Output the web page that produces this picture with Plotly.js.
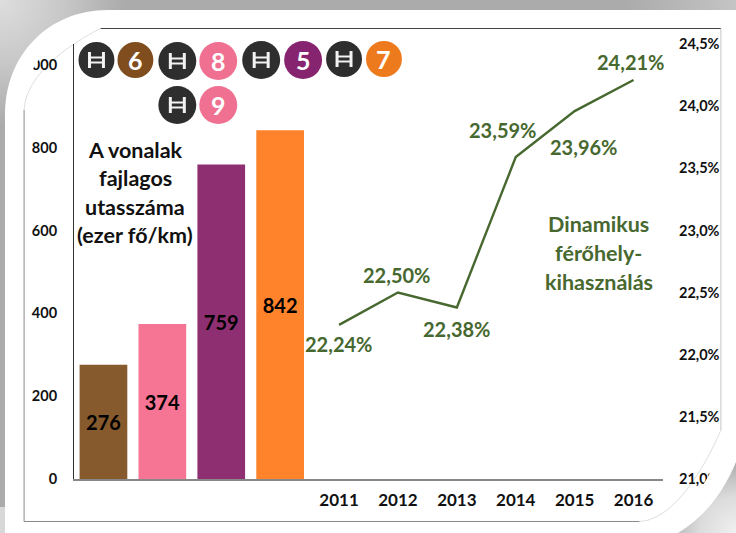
<!DOCTYPE html>
<html>
<head>
<meta charset="utf-8">
<script src="https://cdn.plot.ly/plotly-3.0.1.min.js"></script>
<style>
html,body{margin:0;padding:0;width:736px;height:533px;overflow:hidden}
body{background:#b0b0b0;}
#bg{position:absolute;left:0;top:0;width:736px;height:533px;background:
 radial-gradient(circle 125px at 0 0,#dedede 0,#c8c8c8 50%,rgba(176,176,176,0) 100%) no-repeat,
 linear-gradient(90deg,rgba(176,176,176,0) 85%,#c4c4c4 100%) no-repeat 0 0/736px 11px,
 linear-gradient(#d8d8d8,#d8d8d8) no-repeat 0 507px/6px 26px,
 radial-gradient(circle 72px at 736px 533px,#f0f0f0 0,#dcdcdc 50%,#ababab 100%) no-repeat;}
#panel{position:absolute;left:0;top:0;width:736px;height:533px;background:#fff;
 clip-path:path('M5 533 L5 112 C6 55 48 10 108 10 L736 10 L736 462 C722 495 704 517 678 533 Z');}
#plot{position:absolute;left:0;top:0;width:736px;height:533px;
 clip-path:path('M22 523 L22 110 C24 62 58 28 100 27 L723 27 L723 430 C716 480 685 521 640 523 Z');}
</style>
</head>
<body>
<div id="bg"></div>
<div id="panel"></div>
<div id="plot"></div>
<script>
// Data
var barCats = ['M6','M8','M5','M7'];
var barVals = [276,374,759,842];
var barColors = ['#875A2E','#F67494','#8E2F72','#FF832B'];
var years = ['2011','2012','2013','2014','2015','2016'];
var rates = [22.24,22.50,22.38,23.59,23.96,24.21];
var rateLabels = ['22,24%','22,50%','22,38%','23,59%','23,96%','24,21%'];
var rateLabelDx = [-1,-1,0,-13,9,-3];
var rateLabelDy = [-19,18,-22,27,-36,18];
var leftTicks = [0,200,400,600,800,1000];
var rightTicks = [21,21.5,22,22.5,23,23.5,24,24.5];
var rightTickText = ['21,0%','21,5%','22,0%','22,5%','23,0%','23,5%','24,0%','24,5%'];
var allCats = barCats.concat(years);
var xTickText = ['','','',''].concat(years);
var badges = [['H',96,60,18,'#2E2E2E'],['6',135,60,18,'#7F4D1E'],['H',177,61,19,'#2E2E2E'],['8',218,61,19,'#EF7090'],
 ['H',261,60,19,'#2E2E2E'],['5',303,60,19,'#87246F'],['H',344,59,18,'#2E2E2E'],['7',384,59,18,'#EE7A1E'],
 ['H',177,105,19,'#2E2E2E'],['9',218,105,19,'#EF7090']];
var leftNote = ['A vonalak','fajlagos','utasszáma','(ezer fő/km)'];
var leftNoteY = [150,178,207,235];
var rightNote = ['Dinamikus','férőhely-','kihasználás'];
var rightNoteY = [224,253,282];

// Layout helpers: pixels to paper fractions
var L=73.5,R=663.5,T=44,B=479;
function fx(x){return (x-L)/(R-L);}
function fy(y){return (B-y)/(B-T);}
function P(cmds){return cmds.map(function(c){return c[0]+' '+fx(c[1]).toFixed(5)+' '+fy(c[2]).toFixed(5);}).join(' ');}
function pcurve(a,b,c){return 'C '+fx(a[0]).toFixed(5)+' '+fy(a[1]).toFixed(5)+' '+fx(b[0]).toFixed(5)+' '+fy(b[1]).toFixed(5)+' '+fx(c[0]).toFixed(5)+' '+fy(c[1]).toFixed(5);}
function frame(path,color,w){return {type:'path',xref:'paper',yref:'paper',path:path,line:{color:color,width:w},layer:'below'};}

var FONT='Lato, "Open Sans", sans-serif';
var GREEN='#47682F';
var shapes=[
 frame(P([['M',100,28.5],['L',721.5,28.5]]),'#444444',1.2),
 frame(P([['M',721.5,28.5],['L',721.5,430]]),'#c4c4c4',1),
 frame(P([['M',23.5,110],['L',23.5,521.5],['L',640,521.5]]),'#8a8a8a',1),
 frame(P([['M',23.5,110]])+' '+pcurve([25,64,59,29],[100,28.5],[100,28.5]),'#d0d0d0',0.7),
 frame(P([['M',640,521.5]])+' '+pcurve([685,520,715,480],[721.5,430],[721.5,430]),'#d0d0d0',0.7)
];
var annos=[];
function note(t,x,y,size,color){annos.push({xref:'paper',yref:'paper',x:fx(x),y:fy(y),text:t,showarrow:false,xanchor:'center',yanchor:'middle',font:{family:FONT,size:size,color:color}});}
badges.forEach(function(b){
 var t=b[0],cx=b[1],cy=b[2],r=b[3];
 shapes.push({type:'circle',xref:'paper',yref:'paper',x0:fx(cx-r),x1:fx(cx+r),y0:fy(cy+r),y1:fy(cy-r),fillcolor:b[4],line:{width:0},layer:'above'});
 if(t==='H'){
  shapes.push({type:'path',xref:'paper',yref:'paper',layer:'above',line:{color:'#f2f2f2',width:3},
   path:P([['M',cx-7,cy-8],['L',cx-7,cy+8],['M',cx+7,cy-8],['L',cx+7,cy+8]])});
  shapes.push({type:'path',xref:'paper',yref:'paper',layer:'above',line:{color:'#f2f2f2',width:2},
   path:P([['M',cx-7,cy-2.5],['L',cx+7,cy-2.5],['M',cx-7,cy+2.5],['L',cx+7,cy+2.5]])});
 } else {
  note('<b>'+t+'</b>',cx,cy,25,'#ffffff');
 }
});
leftNote.forEach(function(t,i){note('<b>'+t+'</b>',135,leftNoteY[i],21.5,'#111111');});
rightNote.forEach(function(t,i){note('<b>'+t+'</b>',599,rightNoteY[i],21.5,GREEN);});
years.forEach(function(y,i){
 annos.push({xref:'x',yref:'y2',x:barCats.length+i,y:rates[i],text:'<b>'+rateLabels[i]+'</b>',showarrow:false,xanchor:'center',yanchor:'middle',
  xshift:rateLabelDx[i],yshift:rateLabelDy[i],font:{family:FONT,size:20,color:GREEN}});
});

var traces=[
 {type:'bar',x:barCats,y:barVals,marker:{color:barColors,line:{width:0}},text:barVals.map(String),
  textposition:'inside',insidetextanchor:'middle',textangle:0,constraintext:'none',
  textfont:{family:FONT,size:20,color:'#000000',weight:700},hoverinfo:'none',yaxis:'y'},
 {type:'scatter',mode:'lines',x:years,y:rates,line:{color:GREEN,width:2.4},yaxis:'y2',hoverinfo:'none'}
];
var tickFont={family:FONT,size:14.5,color:'#111111',weight:700};
var layout={
 width:736,height:533,autosize:false,showlegend:false,
 paper_bgcolor:'rgba(0,0,0,0)',plot_bgcolor:'rgba(0,0,0,0)',
 margin:{l:L,r:736-R,t:T,b:533-B,pad:0},
 bargap:0.19,
 xaxis:{type:'category',categoryorder:'array',categoryarray:allCats,range:[-0.5,9.5],tickmode:'array',tickvals:allCats,ticktext:xTickText,
  showgrid:false,zeroline:false,ticks:'',showline:true,linecolor:'#888888',linewidth:2,ticklabelstandoff:5,
  tickfont:{family:FONT,size:17,color:'#111111',weight:700},tickangle:0,fixedrange:true},
 yaxis:{range:[0,1050],tickmode:'array',tickvals:leftTicks,showgrid:false,zeroline:false,ticks:'',showline:true,linecolor:'#333333',linewidth:1,
  ticklabelstandoff:13,tickfont:tickFont,fixedrange:true},
 yaxis2:{overlaying:'y',side:'right',range:[21,24.5],tickmode:'array',tickvals:rightTicks,ticktext:rightTickText,showgrid:false,zeroline:false,ticks:'',showline:false,
  ticklabelstandoff:15,tickfont:tickFont,fixedrange:true},
 shapes:shapes,annotations:annos
};
Plotly.newPlot('plot',traces,layout,{displayModeBar:false,staticPlot:true});
</script>
</body>
</html>
